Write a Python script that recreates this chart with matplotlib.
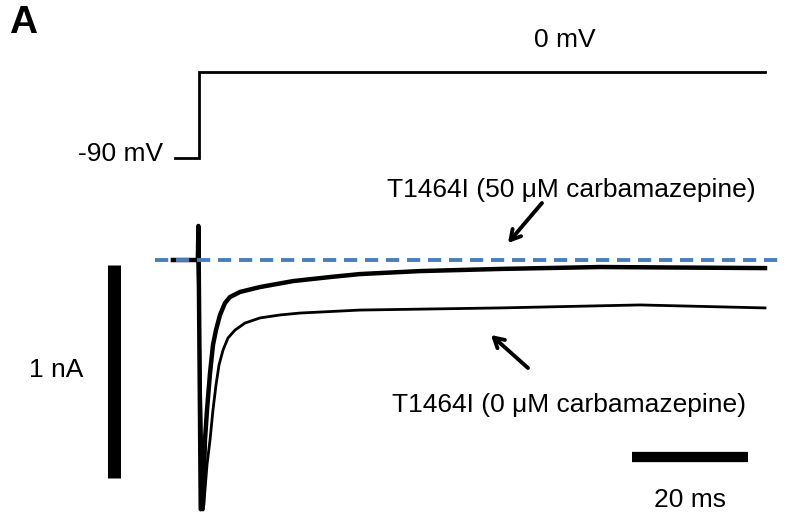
import matplotlib

matplotlib.use("Agg")
import matplotlib.pyplot as plt

plt.rcParams["font.family"] = ["Liberation Sans", "DejaVu Sans"]

# Current traces (time in ms from the step, current in nA)
t_50 = [-4.5, -0.2, -0.1, 0.3, 0.7, 1.03, 1.38, 1.90, 2.41, 2.93, 3.62, 4.48, 5.34,
        7.07, 10.52, 16.21, 22.59, 27.76, 38.10, 51.90, 69.14, 97.59]
i_50 = [0.0, 0.0, 0.16, -1.17, -1.15, -0.845, -0.704, -0.531, -0.399, -0.329, -0.258,
        -0.202, -0.174, -0.150, -0.127, -0.099, -0.080, -0.066, -0.052, -0.042,
        -0.033, -0.038]

t_0 = [-4.5, -0.2, 0.69, 1.03, 1.38, 1.90, 2.41, 2.93, 3.45, 4.14, 5.0, 6.21, 7.93,
       10.52, 13.97, 17.41, 27.76, 51.90, 76.03, 97.59]
i_0 = [0.0, 0.0, -1.174, -1.080, -0.962, -0.845, -0.704, -0.587, -0.493, -0.423,
       -0.366, -0.329, -0.296, -0.272, -0.258, -0.249, -0.235, -0.225, -0.211, -0.225]

# Voltage protocol (ms, mV)
t_v = [-4.1, 0.0, 0.0, 97.6]
v_v = [-90, -90, 0, 0]

# Scale bars
bar_nA = 1.0
bar_ms = 20.0

W, H = 789, 527
PX_MS = 5.8      # px per ms
PX_NA = 213.0    # px per nA
X0, Y0 = 199, 260  # step time / baseline in pixels
PX_MV = 86 / 90.0
YV0 = 72

fig = plt.figure(figsize=(W / 100, H / 100), dpi=100)
ax = fig.add_axes([0, 0, 1, 1])
ax.set_xlim(-X0 / PX_MS, (W - X0) / PX_MS)
ax.set_ylim((Y0 - H) / PX_NA, Y0 / PX_NA)
ax.axis("off")

axv = fig.add_axes([0, 0, 1, 1], sharex=ax)
axv.set_ylim(-(H - YV0) / PX_MV, YV0 / PX_MV)
axv.axis("off")
axv.patch.set_alpha(0)

# voltage step
axv.plot(t_v, v_v, color="black", lw=2.0, solid_joinstyle="miter")

# baseline dashed line
ax.plot([(155 - X0) / PX_MS, (780 - X0) / PX_MS], [0, 0], color="#4a7ebb",
        lw=2.8, dashes=(3.4, 2.0), zorder=3)

# current traces
ax.plot(t_0, i_0, color="black", lw=2.0, zorder=2)
ax.plot(t_50, i_50, color="black", lw=3.2, zorder=2)

# scale bars
xb = (114.5 - X0) / PX_MS
yb = (Y0 - 265) / PX_NA
ax.plot([xb, xb], [yb, yb - bar_nA], color="black", lw=9.4, solid_capstyle="butt")
xh = (632 - X0) / PX_MS
yh = (Y0 - 457) / PX_NA
ax.plot([xh, xh + bar_ms], [yh, yh], color="black", lw=7.4, solid_capstyle="butt")


def fx(px):
    return px / W


def fy(py):
    return 1 - py / H


fig.text(fx(9), fy(23), "A", fontsize=28, fontweight="bold", va="center", ha="left")
fig.text(fx(565), fy(40), "0 mV", fontsize=19, ha="center", va="center")
fig.text(fx(163), fy(154), "-90 mV", fontsize=19, ha="right", va="center")
fig.text(fx(29), fy(370), "1 nA", fontsize=19, ha="left", va="center")
fig.text(fx(690), fy(500), "20 ms", fontsize=19, ha="center", va="center")
fig.text(fx(571), fy(190), "T1464I (50 \u03bcM carbamazepine)", fontsize=19,
         ha="center", va="center")
fig.text(fx(569), fy(405), "T1464I (0 \u03bcM carbamazepine)", fontsize=19,
         ha="center", va="center")

arrow = dict(arrowstyle="->,head_length=0.7,head_width=0.4", lw=2.8, color="black",
             shrinkA=0, shrinkB=0)
ax.annotate("", xy=(fx(508), fy(243)), xytext=(fx(542), fy(203)),
            xycoords="figure fraction", textcoords="figure fraction", arrowprops=arrow)
ax.annotate("", xy=(fx(491), fy(335)), xytext=(fx(528), fy(368)),
            xycoords="figure fraction", textcoords="figure fraction", arrowprops=arrow)

fig.savefig("out.png", dpi=100)
plt.close(fig)
